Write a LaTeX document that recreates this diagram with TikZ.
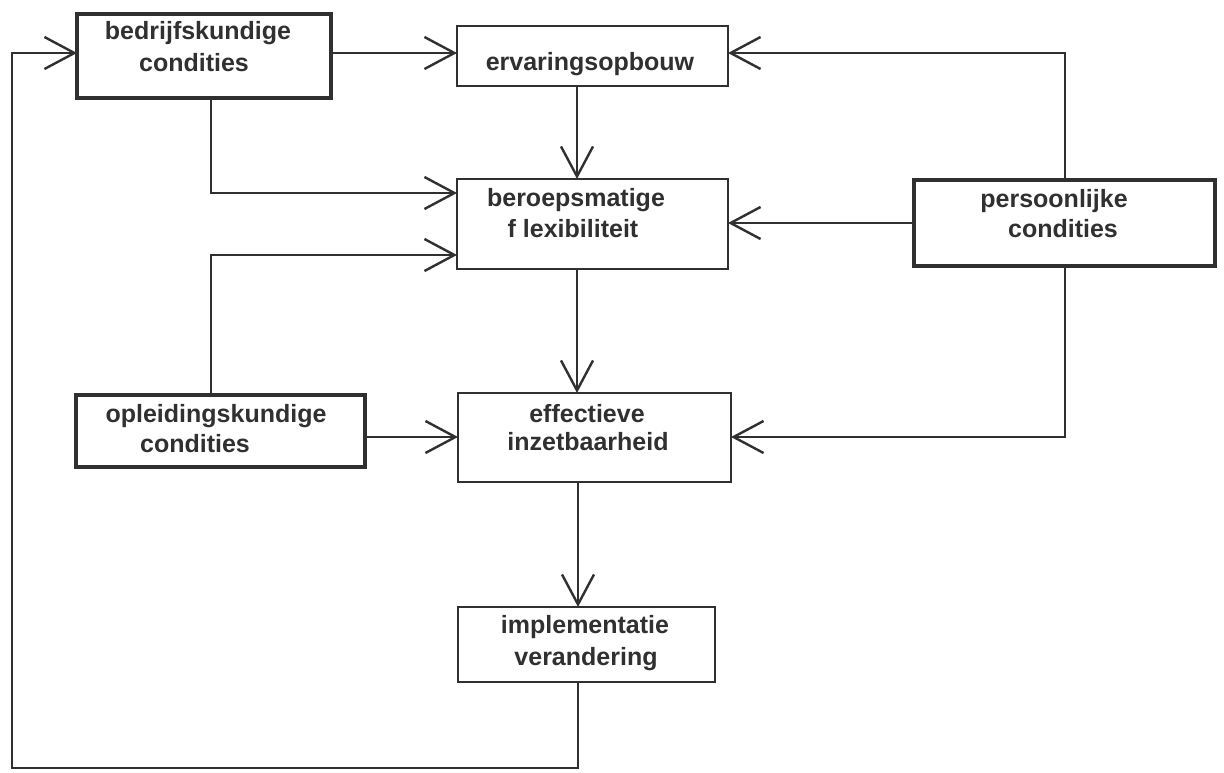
\documentclass[tikz,border=0pt]{standalone}
\usepackage{fontspec}
\setmainfont{Liberation Sans}
\usetikzlibrary{arrows.meta}
\definecolor{ink}{HTML}{303030}
\begin{document}
\begin{tikzpicture}[x=1pt,y=-1pt,
  box/.style={draw=ink, line width=2.2pt, fill=white, inner sep=0pt, outer sep=0pt},
  thickbox/.style={box, line width=4.5pt},
  lbl/.style={font=\bfseries\fontsize{25}{30}\selectfont, text=ink, anchor=base, inner sep=0pt},
  arr/.style={draw=ink, line width=2pt,
    -{Straight Barb[length=30pt,width=32pt,line width=2.4pt]}},
  link/.style={draw=ink, line width=2pt}]

\useasboundingbox (0,0) rectangle (1224,772);
\fill[white] (0,0) rectangle (1224,772);

% boxes
\node[thickbox, minimum width=254pt, minimum height=84pt] (bed) at (204,56) {};
\node[box, minimum width=271pt, minimum height=60pt] (erv) at (592.5,56) {};
\node[box, minimum width=271pt, minimum height=90pt] (ber) at (592.5,224) {};
\node[thickbox, minimum width=301pt, minimum height=86pt] (per) at (1064.5,223) {};
\node[thickbox, minimum width=289pt, minimum height=72pt] (opl) at (220.5,431) {};
\node[box, minimum width=273pt, minimum height=89pt] (eff) at (594.5,437.5) {};
\node[box, minimum width=257pt, minimum height=75pt] (imp) at (586.5,644.5) {};

% labels
\node[lbl] (bedA) at (198,39) {bedrijfskundige};
\node[lbl] (bedB) at (194,71) {condities};
\node[lbl] (ervA) at (590,70) {ervaringsopbouw};
\node[lbl] (berA) at (576,206) {beroepsmatige};
\node[lbl] (berB) at (573,237) {f lexibiliteit};
\node[lbl] (perA) at (1054,207) {persoonlijke};
\node[lbl] (perB) at (1063,237) {condities};
\node[lbl] (oplA) at (216,422) {opleidingskundige};
\node[lbl] (oplB) at (195,452) {condities};
\node[lbl] (effA) at (587,422) {effectieve};
\node[lbl] (effB) at (588,450) {inzetbaarheid};
\node[lbl] (impA) at (585,633) {implementatie};
\node[lbl] (impB) at (586,665) {verandering};

% routing coordinates
\coordinate (mid) at (577,0);
\coordinate (feed) at (211,0);
\coordinate (topR) at (0,53);
\coordinate (berU) at (0,193);
\coordinate (berL) at (0,255);
\coordinate (effR) at (0,437);
\coordinate (loopR) at (578,768);
\coordinate (loopL) at (12,768);
\coordinate (loopT) at (12,53);

% connectors
\draw[arr] (bed.east |- topR) -- (erv.west |- topR);
\draw[arr] (erv.south -| mid) -- (ber.north -| mid);
\draw[arr] (bed.south -| feed) |- (ber.west |- berU);
\draw[arr] (opl.north -| feed) |- (ber.west |- berL);
\draw[arr] (per.west) -- (ber.east |- per.west);
\draw[arr] (per.north) |- (erv.east |- topR);
\draw[arr] (ber.south -| mid) -- (eff.north -| mid);
\draw[arr] (opl.east |- effR) -- (eff.west |- effR);
\draw[arr] (per.south) |- (eff.east |- effR);
\draw[arr] (eff.south -| loopR) -- (imp.north -| loopR);
\draw[arr] (imp.south -| loopR) -- (loopR) -- (loopL) -- (loopT) -- (bed.west |- loopT);

\end{tikzpicture}
\end{document}
